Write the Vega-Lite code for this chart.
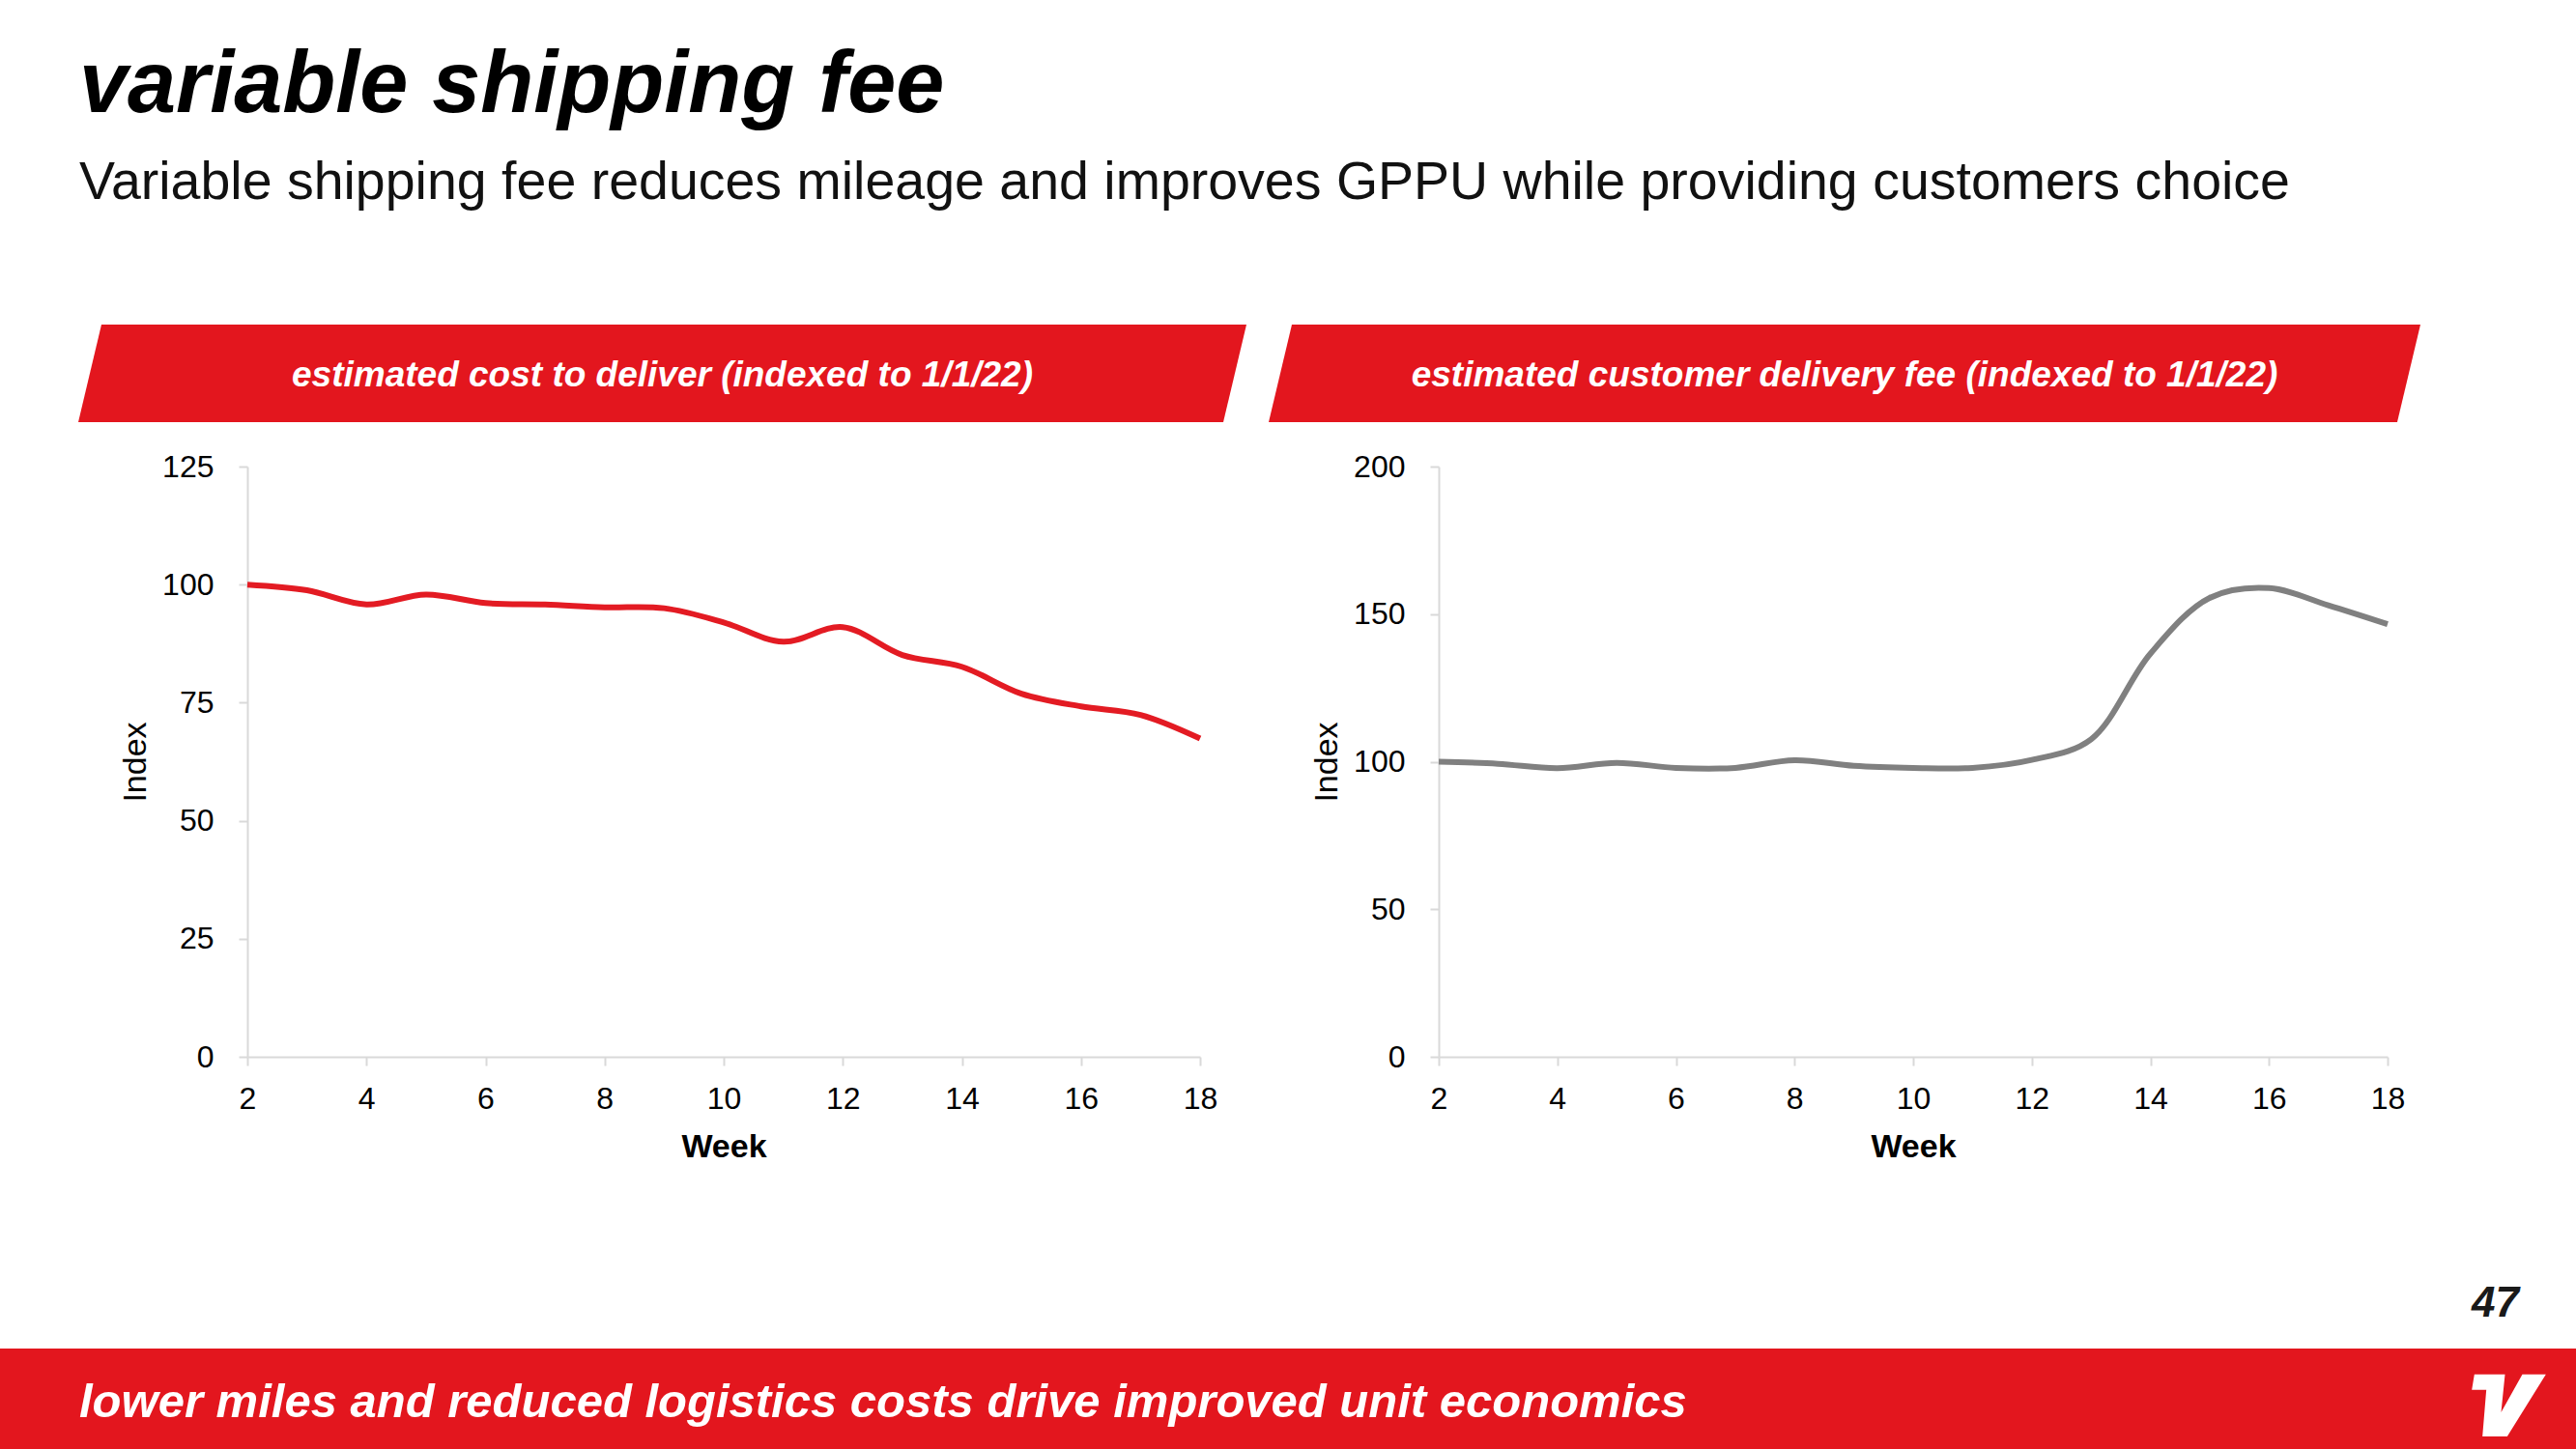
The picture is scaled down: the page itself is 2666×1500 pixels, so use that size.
{
  "$schema": "https://vega.github.io/schema/vega-lite/v6.json",
  "background": "white",
  "padding": {"left": 0, "right": 0, "top": 43, "bottom": 0},
  "autosize": {"type": "pad"},
  "title": {
    "text": "variable shipping fee",
    "subtitle": "Variable shipping fee reduces mileage and improves GPPU while providing customers choice",
    "anchor": "start",
    "frame": "group",
    "dx": 82,
    "offset": 118,
    "font": "Liberation Sans",
    "fontSize": 90,
    "fontWeight": "bold",
    "fontStyle": "italic",
    "color": "#000000",
    "subtitleFont": "Liberation Sans",
    "subtitleFontSize": 55.5,
    "subtitleColor": "#111111",
    "subtitlePadding": 27
  },
  "spacing": 0,
  "vconcat": [
    {
      "bounds": "flush",
      "spacing": 0,
      "hconcat": [
        {"width": 81, "height": 101, "view": {"fill": "#FFFFFF", "stroke": null}, "data": {"values": []}, "mark": "point"},
        {
          "width": 1209, "height": 101,
          "data": {"values": [{"label": "estimated cost to deliver (indexed to 1/1/22)"}]},
          "layer": [
            {"mark": {"type": "point", "shape": "M-1,0.0835L-0.9603,-0.0835L1,-0.0835L0.9603,0.0835Z", "size": 1461681, "filled": true, "fill": "#E3161E", "opacity": 1, "strokeWidth": 0}},
            {"mark": {"type": "text", "font": "Liberation Sans", "fontSize": 37, "fontWeight": "bold", "fontStyle": "italic", "color": "#FFFFFF", "baseline": "middle", "dy": 2}, "encoding": {"text": {"field": "label"}}}
          ]
        },
        {"width": 23, "height": 101, "data": {"values": []}, "mark": "point"},
        {
          "width": 1192, "height": 101,
          "data": {"values": [{"label": "estimated customer delivery fee (indexed to 1/1/22)"}]},
          "layer": [
            {"mark": {"type": "point", "shape": "M-1,0.0847L-0.9597,-0.0847L1,-0.0847L0.9597,0.0847Z", "size": 1420864, "filled": true, "fill": "#E3161E", "opacity": 1, "strokeWidth": 0}},
            {"mark": {"type": "text", "font": "Liberation Sans", "fontSize": 37, "fontWeight": "bold", "fontStyle": "italic", "color": "#FFFFFF", "baseline": "middle", "dy": 2}, "encoding": {"text": {"field": "label"}}}
          ]
        }
      ]
    },
    {"width": 10, "height": 30, "view": {"fill": "#FFFFFF", "stroke": null}, "data": {"values": []}, "mark": "point"},
    {
      "bounds": "flush",
      "spacing": 0,
      "hconcat": [
        {"width": 256, "height": 913, "view": {"fill": "#FFFFFF", "stroke": null}, "data": {"values": []}, "mark": "point"},
        {
          "width": 986, "height": 611,
          "data": {"values": [
            {"week": 2, "index": 100}, {"week": 3, "index": 98.8}, {"week": 4, "index": 95.8},
            {"week": 5, "index": 97.9}, {"week": 6, "index": 96.1}, {"week": 7, "index": 95.8},
            {"week": 8, "index": 95.2}, {"week": 9, "index": 95.0}, {"week": 10, "index": 92.0},
            {"week": 11, "index": 87.9}, {"week": 12, "index": 91.0}, {"week": 13, "index": 85.1},
            {"week": 14, "index": 82.6}, {"week": 15, "index": 76.9}, {"week": 16, "index": 74.2},
            {"week": 17, "index": 72.4}, {"week": 18, "index": 67.4}
          ]},
          "mark": {"type": "line", "color": "#E31B23", "strokeWidth": 6, "interpolate": "catmull-rom"},
          "encoding": {
            "x": {"field": "week", "type": "quantitative", "scale": {"domain": [2, 18], "nice": false, "zero": false},
                  "axis": {"values": [2, 4, 6, 8, 10, 12, 14, 16, 18], "title": "Week"}},
            "y": {"field": "index", "type": "quantitative", "scale": {"domain": [0, 125], "nice": false},
                  "axis": {"values": [0, 25, 50, 75, 100, 125], "title": "Index"}}
          }
        },
        {"width": 247, "height": 611, "data": {"values": []}, "mark": "point"},
        {
          "width": 982, "height": 611,
          "data": {"values": [
            {"week": 2, "index": 100}, {"week": 3, "index": 99.3}, {"week": 4, "index": 97.8},
            {"week": 5, "index": 99.6}, {"week": 6, "index": 97.9}, {"week": 7, "index": 97.9},
            {"week": 8, "index": 100.5}, {"week": 9, "index": 98.6}, {"week": 10, "index": 97.9},
            {"week": 11, "index": 97.9}, {"week": 12, "index": 100.6}, {"week": 13, "index": 107.6},
            {"week": 14, "index": 136.6}, {"week": 15, "index": 155.5}, {"week": 16, "index": 158.8},
            {"week": 17, "index": 153.0}, {"week": 18, "index": 146.6}
          ]},
          "mark": {"type": "line", "color": "#808080", "strokeWidth": 6, "interpolate": "catmull-rom"},
          "encoding": {
            "x": {"field": "week", "type": "quantitative", "scale": {"domain": [2, 18], "nice": false, "zero": false},
                  "axis": {"values": [2, 4, 6, 8, 10, 12, 14, 16, 18], "title": "Week"}},
            "y": {"field": "index", "type": "quantitative", "scale": {"domain": [0, 200], "nice": false},
                  "axis": {"values": [0, 50, 100, 150, 200], "title": "Index"}}
          }
        },
        {
          "width": 136, "height": 880,
          "data": {"values": [{"page": "47"}]},
          "mark": {"type": "text", "font": "Liberation Sans", "fontSize": 44, "fontWeight": "bold", "fontStyle": "italic", "color": "#1A1A1A", "align": "right", "baseline": "alphabetic"},
          "encoding": {
            "x": {"datum": 1, "type": "quantitative", "scale": {"domain": [0, 1]}, "axis": null},
            "y": {"datum": 0, "type": "quantitative", "scale": {"domain": [0, 1]}, "axis": null},
            "text": {"field": "page"}
          }
        }
      ]
    },
    {
      "bounds": "flush",
      "spacing": 0,
      "hconcat": [
        {"width": 82, "height": 106, "view": {"fill": "#E3161E", "stroke": null}, "data": {"values": []}, "mark": "point"},
        {
          "width": 1700, "height": 106,
          "view": {"fill": "#E3161E", "stroke": null},
          "data": {"values": [{"label": "lower miles and reduced logistics costs drive improved unit economics"}]},
          "mark": {"type": "text", "font": "Liberation Sans", "fontSize": 49, "fontWeight": "bold", "fontStyle": "italic", "color": "#FFFFFF", "align": "left", "baseline": "middle", "dy": 3},
          "encoding": {
            "x": {"datum": 0, "type": "quantitative", "scale": {"domain": [0, 1]}, "axis": null},
            "text": {"field": "label"}
          }
        },
        {"width": 744, "height": 106, "view": {"fill": "#E3161E", "stroke": null}, "data": {"values": []}, "mark": "point"},
        {
          "width": 140, "height": 106,
          "view": {"fill": "#E3161E", "stroke": null},
          "data": {"values": [{"label": "logo"}]},
          "mark": {"type": "point", "shape": "M-0.906,-0.678L-0.09,-0.678L-0.193,0.335L0.373,-0.678L1,-0.678L-0.03,0.978L-0.691,0.978L-0.588,-0.266L-0.974,-0.266Z", "size": 6030, "filled": true, "fill": "#FFFFFF", "opacity": 1, "strokeWidth": 0}
        }
      ]
    }
  ],
  "config": {
    "view": {"stroke": null},
    "font": "Liberation Sans",
    "axis": {
      "grid": false,
      "domainColor": "#D9D9D9",
      "domainWidth": 2,
      "tickColor": "#D9D9D9",
      "tickWidth": 2,
      "tickSize": 9,
      "labelFont": "Liberation Sans",
      "labelFontSize": 32,
      "labelColor": "#000000",
      "titleFont": "Liberation Sans",
      "titleFontSize": 34,
      "titleColor": "#000000"
    },
    "axisX": {"labelPadding": 19, "titlePadding": 17, "titleFontWeight": "bold", "labelFlush": false},
    "axisY": {"labelPadding": 26, "titlePadding": 10, "titleFontWeight": "normal"}
  }
}
